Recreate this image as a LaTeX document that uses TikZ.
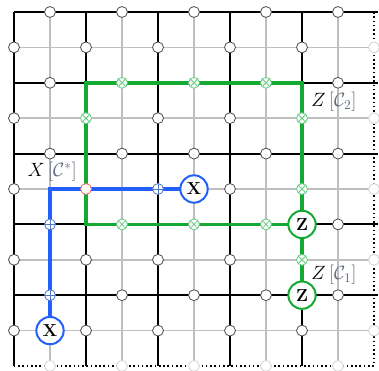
\documentclass[tikz,border=0pt]{standalone}
\usetikzlibrary{calc}

\definecolor{zgreen}{RGB}{20,170,50}
\definecolor{xblue}{RGB}{35,95,250}
\definecolor{zlight}{RGB}{100,205,130}
\definecolor{xlight}{RGB}{80,120,200}
\definecolor{redlight}{RGB}{250,105,105}
\definecolor{labgray}{RGB}{95,110,125}

\tikzset{every picture/.style={line width=0.75pt}}
\tikzset{
  primal/.style={black,line width=1.5pt},
  dual/.style={gray!50,line width=1.1pt},
  border/.style={black,line width=1.2pt,dotted},
  qubit/.style={circle,draw=black!70,fill=white,line width=0.6pt,minimum size=8.2pt,inner sep=0pt},
  ghost/.style={qubit,draw=gray!35},
  zmark/.style={qubit,draw=zlight,path picture={
    \draw[zlight,line width=0.6pt] (path picture bounding box.south west) -- (path picture bounding box.north east)
      (path picture bounding box.north west) -- (path picture bounding box.south east);}},
  xmark/.style={qubit,draw=xlight,path picture={
    \draw[xlight,line width=0.6pt] (path picture bounding box.south) -- (path picture bounding box.north)
      (path picture bounding box.west) -- (path picture bounding box.east);}},
  both/.style={qubit,draw=redlight},
  zpath/.style={zgreen,line width=2.6pt},
  xpath/.style={xblue,line width=2.6pt},
  zdef/.style={circle,draw=zgreen,fill=white,line width=1.5pt,minimum size=20.5pt,inner sep=0pt,font=\fontsize{13}{15}\selectfont\bfseries},
  xdef/.style={zdef,draw=xblue},
  chainlabel/.style={inner sep=1pt,font=\fontsize{14.5}{17}\selectfont},
  % qubits touched by the chains
  q-3-2/.style=zmark, q-5-2/.style=zmark, q-7-2/.style=zmark,
  q-8-3/.style=zmark, q-8-5/.style=zmark, q-8-7/.style=zmark,
  q-3-6/.style=zmark, q-5-6/.style=zmark, q-7-6/.style=zmark,
  q-2-3/.style=zmark,
  q-4-5/.style=xmark, q-1-6/.style=xmark, q-1-8/.style=xmark,
  q-2-5/.style=both
}

\begin{document}
\begin{tikzpicture}[x=27pt,y=-26.55pt]
\useasboundingbox (-0.389,-0.339) rectangle (10.139,10.141);

% lattice
\foreach \k in {1,3,...,9} {
  \draw[dual] (0,\k) -- (10,\k);
  \draw[dual] (\k,0) -- (\k,10);
}
\foreach \k in {0,2,...,8} {
  \draw[primal] (0,\k) -- (10.11,\k);
  \draw[primal] (\k,0) -- (\k,10);
}
\draw[border] (10,0) -- (10,10) -- (0,10);

% chains
\coordinate (tl) at (2,2);
\coordinate (tr) at (8,2);
\coordinate (br) at (8,6);
\coordinate (bl) at (2,6);
\coordinate (zend) at (8,8);
\coordinate (xstart) at (5,5);
\coordinate (xturn) at (1,5);
\coordinate (xend) at (1,9);
\draw[zpath] (tl) -- (tr) -- (br) -- (bl) -- cycle;
\draw[zpath] (br) -- (zend);
\draw[xpath] (xstart) -- (xturn) -- (xend);

% qubits
\foreach \i in {0,...,10} {
  \foreach \j in {0,...,10} {
    \pgfmathtruncatemacro\odd{mod(\i+\j,2)}
    \ifnum\odd=1
      \ifnum\i=10 \def\qs{ghost}\else\ifnum\j=10 \def\qs{ghost}\else\def\qs{qubit}\fi\fi
      \node[\qs,q-\i-\j/.try] (q-\i-\j) at (\i,\j) {};
    \fi
  }
}

% excitations
\node[zdef] (z1) at (br) {Z};
\node[zdef] (z2) at (zend) {Z};
\node[xdef] (x1) at (xstart) {X};
\node[xdef] (x2) at (xend) {X};

% Text Node
\node[chainlabel] (lx) at (1.06,4.52) {$X\,{\color{labgray}[\mathcal{C}^*]}$};
% Text Node
\node[chainlabel] (lz2) at (8.89,2.54) {$Z\,{\color{labgray}[\mathcal{C}_2]}$};
% Text Node
\node[chainlabel] (lz1) at (8.89,7.43) {$Z\,{\color{labgray}[\mathcal{C}_1]}$};

\end{tikzpicture}
\end{document}
